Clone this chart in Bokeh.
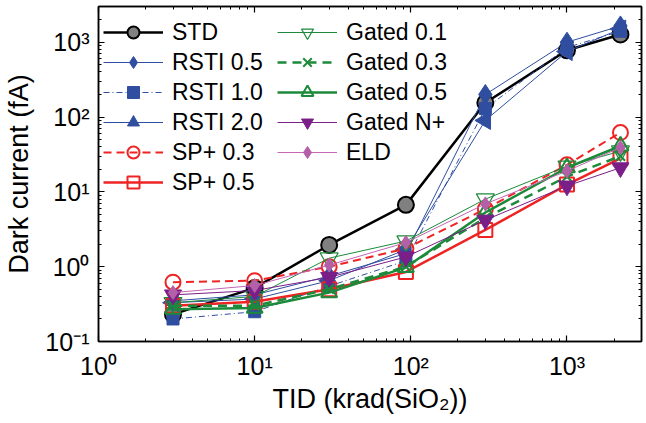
import math
from bokeh.plotting import figure
from bokeh.models import Legend, LegendItem, LogAxis, FixedTicker, Range1d, CustomLabelingPolicy
from bokeh.embed import file_html
from bokeh.resources import INLINE

# ---- data ----
tid = [3, 10, 30, 93, 300, 1000, 2200]
std = [0.23, 0.52, 1.95, 6.7, 155, 780, 1270]
rsti_05 = [0.35, 0.42, 0.75, 1.5, 200, 1000, 1650]
rsti_10 = [0.20, 0.25, 0.55, 1.2, 130, 850, 1400]
rsti_20 = [0.33, 0.37, 0.65, 1.7, 90, 750, 1500]
sp_03 = [0.62, 0.65, 1.0, 1.75, 5.9, 23, 62]
sp_05 = [0.30, 0.34, 0.50, 0.85, 3.1, 12.5, 28]
gated_01 = [0.33, 0.40, 1.3, 2.2, 8.0, 22, 35]
gated_03 = [0.30, 0.30, 0.50, 1.0, 4.5, 16, 30]
gated_05 = [0.27, 0.28, 0.45, 0.98, 5.3, 21, 41]
gated_np = [0.42, 0.48, 0.72, 1.35, 4.2, 12, 21]
eld = [0.45, 0.56, 1.05, 2.1, 6.9, 19, 39]

x_tick_values = [1, 10, 100, 1000]
x_tick_labels = ["10\u2070", "10\u00b9", "10\u00b2", "10\u00b3"]
y_tick_values = [0.1, 1, 10, 100, 1000]
y_tick_labels = ["10\u207b\u00b9", "10\u2070", "10\u00b9", "10\u00b2", "10\u00b3"]

FONT = "Liberation Sans"
BLUE = "#2f4ea0"
RED = "#ee2424"
GREEN = "#1c8a3a"
PURPLE = "#7a1f88"
PINK = "#c466b4"

p = figure(x_axis_type="log", y_axis_type="log",
           x_range=Range1d(1, 3000), y_range=Range1d(0.1, 3000),
           width=646, height=423, output_backend="svg", toolbar_location=None,
           min_border_left=98, min_border_right=4, min_border_top=6, min_border_bottom=82)
p.xgrid.visible = False
p.ygrid.visible = False
p.outline_line_color = "black"
p.outline_line_width = 1.5
p.background_fill_color = "white"
p.border_fill_color = "white"

minor = []
for e in range(-1, 4):
    for m in range(2, 10):
        minor.append(m * 10 ** e)

def style_axis(ax, vals, labels, show):
    ax.ticker = FixedTicker(ticks=vals, minor_ticks=minor)
    ax.major_tick_in = 6
    ax.major_tick_out = 0
    ax.minor_tick_in = 3
    ax.minor_tick_out = 0
    ax.axis_line_width = 1.5
    ax.major_tick_line_width = 1.2
    ax.minor_tick_line_width = 1
    ax.major_label_text_font = FONT
    ax.major_label_text_color = "black"
    ax.axis_label_text_font = FONT
    ax.axis_label_text_font_style = "normal"
    ax.axis_label_text_color = "black"
    if show:
        ax.major_label_overrides = {v: l for v, l in zip(vals, labels)}
        ax.major_label_text_font_size = "25px"
        ax.axis_label_text_font_size = "27px"
    else:
        ax.major_label_policy = CustomLabelingPolicy(code="return new Set()")
        ax.major_label_text_font_size = "1px"
        ax.major_label_standoff = 0

xa = p.xaxis[0]
ya = p.yaxis[0]
style_axis(xa, x_tick_values, x_tick_labels, True)
style_axis(ya, y_tick_values, y_tick_labels, True)
xa.axis_label = "TID (krad(SiO\u2082))"
ya.axis_label = "Dark current (fA)"
xa.major_label_standoff = 10
ya.major_label_standoff = 9
xa.axis_label_standoff = 1
ya.axis_label_standoff = 8

top = LogAxis()
style_axis(top, x_tick_values, x_tick_labels, False)
p.add_layout(top, "above")
right = LogAxis()
style_axis(right, y_tick_values, y_tick_labels, False)
p.add_layout(right, "right")

series = [
    ("STD", std, dict(color="black", width=2.5, dash="solid"),
     dict(marker="circle", size=16, fill_color="#808080", line_color="black", line_width=2)),
    ("RSTI 0.5", rsti_05, dict(color=BLUE, width=1, dash="solid"),
     dict(marker="diamond", size=20, fill_color=BLUE, line_color=BLUE, line_width=1)),
    ("RSTI 1.0", rsti_10, dict(color=BLUE, width=1, dash="6 3 1 3"),
     dict(marker="square", size=12, fill_color=BLUE, line_color=BLUE, line_width=1)),
    ("RSTI 2.0", rsti_20, dict(color=BLUE, width=1, dash="solid"),
     dict(marker="triangle", size=18, fill_color=BLUE, line_color=BLUE, line_width=1, angle=math.pi / 2)),
    ("SP+ 0.3", sp_03, dict(color=RED, width=2, dash="8 5"),
     dict(marker="circle", size=15, fill_color=None, line_color=RED, line_width=2)),
    ("SP+ 0.5", sp_05, dict(color=RED, width=2.5, dash="solid"),
     dict(marker="square", size=14, fill_color=None, line_color=RED, line_width=2)),
    ("Gated 0.1", gated_01, dict(color=GREEN, width=1, dash="solid"),
     dict(marker="inverted_triangle", size=18, fill_color=None, line_color=GREEN, line_width=1.2)),
    ("Gated 0.3", gated_03, dict(color=GREEN, width=2.5, dash="9 6"),
     dict(marker="x", size=13, fill_color=None, line_color=GREEN, line_width=2)),
    ("Gated 0.5", gated_05, dict(color=GREEN, width=2.5, dash="solid"),
     dict(marker="triangle", size=16, fill_color=None, line_color=GREEN, line_width=2)),
    ("Gated N+", gated_np, dict(color=PURPLE, width=1, dash="solid"),
     dict(marker="inverted_triangle", size=17, fill_color=PURPLE, line_color=PURPLE, line_width=1)),
    ("ELD", eld, dict(color=PINK, width=1, dash="solid"),
     dict(marker="diamond", size=14, fill_color="#b460a8", line_color="#b460a8", line_width=1)),
]

items = []
for name, ys, ls, ms in series:
    r1 = p.line(tid, ys, line_color=ls["color"], line_width=ls["width"], line_dash=ls["dash"])
    kw = dict(ms)
    marker = kw.pop("marker")
    r2 = p.scatter(tid, ys, marker=marker, **kw)
    items.append(LegendItem(label=name, renderers=[r1, r2]))

def make_legend(its, loc):
    lg = Legend(items=its, location=loc, orientation="vertical")
    lg.background_fill_alpha = 0
    lg.border_line_alpha = 0
    lg.label_text_font = FONT
    lg.label_text_font_size = "23px"
    lg.label_text_color = "black"
    lg.glyph_width = 60
    lg.glyph_height = 30
    lg.label_height = 30
    lg.spacing = 0
    lg.padding = 0
    lg.margin = 0
    lg.label_standoff = 9
    return lg

# rows 30 px apart; bottom offsets measured from the frame's bottom edge
p.add_layout(make_legend(items[:6], (5, 144)))
p.add_layout(make_legend(items[6:], (179, 174)))

open("out.html", "w").write(file_html(p, INLINE))
